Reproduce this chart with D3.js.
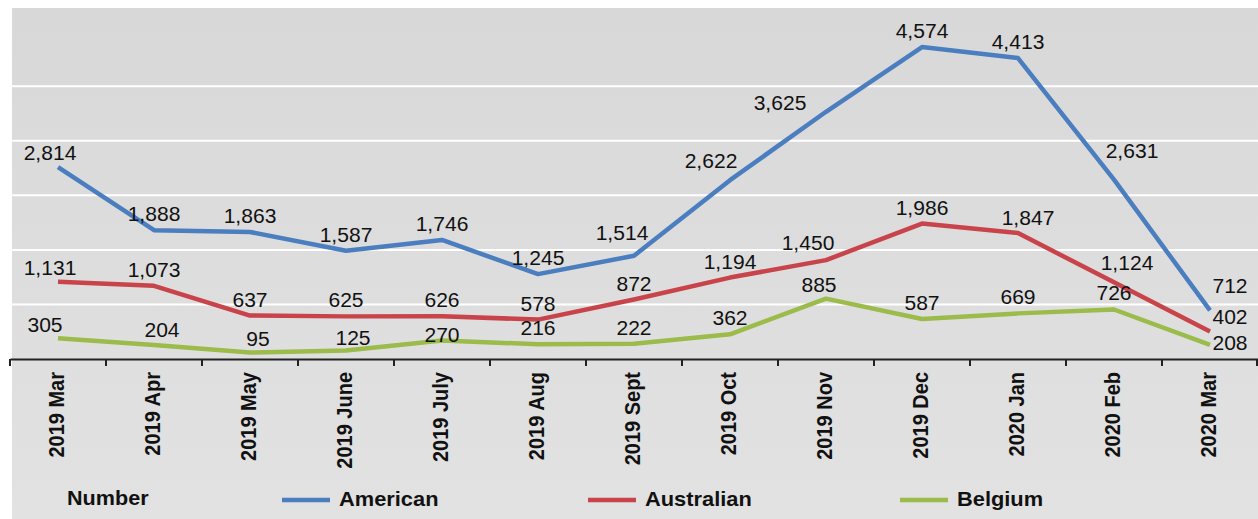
<!DOCTYPE html>
<html>
<head>
<meta charset="utf-8">
<script src="https://cdn.jsdelivr.net/npm/d3@7"></script>
<style>
  html, body { margin: 0; padding: 0; background: #ffffff; }
  svg { display: block; }
  text { font-family: "Liberation Sans", Arial, sans-serif; fill: #111; }
</style>
</head>
<body>
<svg id="chart" width="1258" height="519"></svg>
<script>
// ---------------- data ----------------
const categories = ["2019 Mar","2019 Apr","2019 May","2019 June","2019 July","2019 Aug","2019 Sept","2019 Oct","2019 Nov","2019 Dec","2020 Jan","2020 Feb","2020 Mar"];
const american   = [2814,1888,1863,1587,1746,1245,1514,2622,3625,4574,4413,2631,712];
const australian = [1131,1073,637,625,626,578,872,1194,1450,1986,1847,1124,402];
const belgium    = [305,204,95,125,270,216,222,362,885,587,669,726,208];
const seriesNames = ["American","Australian","Belgium"];
const gridTicks = [800,1600,2400,3200,4000];
const legendTitle = "Number";

// ---------------- layout / style ----------------
const W = 1258, H = 519;
const plot = { left: 10, right: 1258, top: 8, axisY: 359 };
const colors = ["#4a7ebf", "#c8434a", "#9bbb4a"];
const seriesData = [american, australian, belgium];

// label nudges [dx, baselineOffset] relative to the point (default [0,-9])
const nudges = {
  "0:0": [-8,-7], "0:6": [-12,-16], "0:7": [-19,-12], "0:8": [-46,-2],
  "0:11": [18,-22], "0:12": [20,-17],
  "1:0": [-8,-7], "1:8": [-18,-10], "1:10": [10,-8], "1:11": [13,-12], "1:12": [20,-8],
  "2:0": [-13,-6], "2:1": [8,-8], "2:2": [8,-7], "2:3": [7,-5], "2:4": [0,1], "2:8": [-7,-7], "2:12": [20,5]
};

const svg = d3.select("#chart");
const defs = svg.append("defs");
const grad = defs.append("linearGradient").attr("id","bg").attr("x1",0).attr("y1",0).attr("x2",0).attr("y2",1);
grad.append("stop").attr("offset","0%").attr("stop-color","#d8d8d8");
grad.append("stop").attr("offset","100%").attr("stop-color","#e2e2e2");

svg.append("rect").attr("x", plot.left + 2).attr("y", plot.top)
  .attr("width", W - plot.left - 2).attr("height", H - plot.top)
  .attr("fill", "url(#bg)");

const x = d3.scaleBand().domain(categories).range([plot.left, plot.right]).padding(0);
const xc = d => x(d) + x.bandwidth() / 2;
const y = d3.scaleLinear().domain([0, 4800]).range([plot.axisY, plot.axisY - 4800 * 0.0682]);

// gridlines
svg.append("g").selectAll("line").data(gridTicks).join("line")
  .attr("x1", plot.left + 2).attr("x2", plot.right)
  .attr("y1", d => y(d)).attr("y2", d => y(d))
  .attr("stroke", "#ffffff").attr("stroke-width", 2);

// x axis
const xAxis = d3.axisBottom(x).tickSizeInner(7).tickSizeOuter(0).tickFormat("");
const gx = svg.append("g").attr("transform", `translate(0,${plot.axisY})`).call(xAxis);
gx.select(".domain").attr("stroke", "#222").attr("stroke-width", 2);
// boundary ticks (between categories) like Excel
gx.selectAll(".tick").remove();
const bounds = categories.map(c => x(c)).concat([plot.right - 1]);
gx.selectAll("line.bt").data(bounds).join("line").attr("class","bt")
  .attr("x1", d => d).attr("x2", d => d).attr("y1", 0).attr("y2", 7)
  .attr("stroke", "#222").attr("stroke-width", 2);

// x labels
svg.append("g").selectAll("text").data(categories).join("text")
  .attr("transform", d => `translate(${xc(d) - 1},372) scale(1.13,1) rotate(-90)`)
  .attr("text-anchor", "end")
  .attr("dominant-baseline", "central")
  .style("font-size", "20px").style("font-weight", "bold")
  .text(d => d);

// lines
const line = d3.line().x((d, i) => xc(categories[i])).y(d => y(d));
seriesData.forEach((vals, s) => {
  svg.append("path").datum(vals)
    .attr("d", line)
    .attr("fill", "none")
    .attr("stroke", colors[s])
    .attr("stroke-width", 4.5)
    .attr("stroke-linejoin", "round");
});

// value labels
const fmt = d3.format(",");
seriesData.forEach((vals, s) => {
  svg.append("g").selectAll("text").data(vals).join("text")
    .attr("transform", (d, i) => {
      const n = nudges[s + ":" + i] || [0, -9];
      return `translate(${xc(categories[i]) + n[0]},${y(d) + n[1]}) scale(1.08,1)`;
    })
    .attr("text-anchor", "middle")
    .style("font-size", "19.5px")
    .text(d => fmt(d));
});

// legend
const lg = svg.append("g");
lg.append("text").attr("transform", "translate(67,505) scale(1.08,1)")
  .style("font-size", "20px").style("font-weight", "bold").text(legendTitle);
const legendPos = [282, 588, 900];
seriesNames.forEach((name, s) => {
  lg.append("line").attr("x1", legendPos[s]).attr("x2", legendPos[s] + 48)
    .attr("y1", 500).attr("y2", 500)
    .attr("stroke", colors[s]).attr("stroke-width", 4.5);
  lg.append("text").attr("transform", `translate(${legendPos[s] + 57},506) scale(1.12,1)`)
    .style("font-size", "19.5px").style("font-weight", "bold").text(name);
});
</script>
</body>
</html>
